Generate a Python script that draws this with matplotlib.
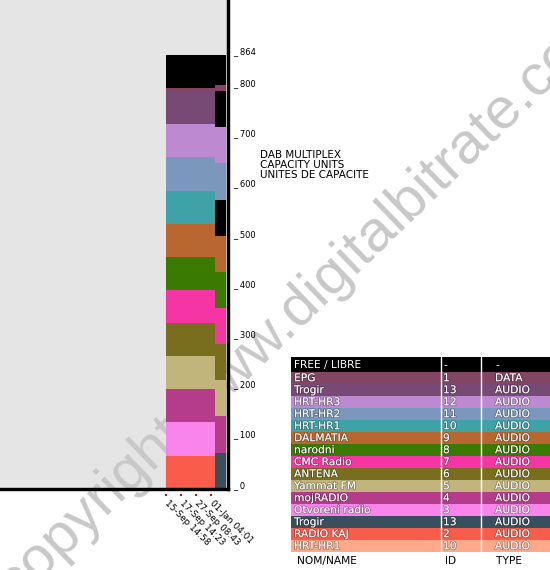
import matplotlib
matplotlib.use('Agg')
import matplotlib.pyplot as plt
import matplotlib.patheffects as pe
from matplotlib.patches import Rectangle

# Services du multiplex (ordre de la légende, de haut en bas)
noms = ['EPG', 'Trogir', 'HRT-HR3', 'HRT-HR2', 'HRT-HR1', 'DALMATIA', 'narodni',
        'CMC Radio', 'ANTENA', 'Yammat FM', 'mojRADIO', 'Otvoreni radio',
        'Trogir', 'RADIO KAJ', 'HRT-HR1']
ids = ['1', '13', '12', '11', '10', '9', '8', '7', '6', '5', '4', '3', '13', '2', '10']
types = ['DATA', 'AUDIO', 'AUDIO', 'AUDIO', 'AUDIO', 'AUDIO', 'AUDIO', 'AUDIO',
         'AUDIO', 'AUDIO', 'AUDIO', 'AUDIO', 'AUDIO', 'AUDIO', 'AUDIO']
couleurs = ['#834563', '#774a75', '#bd8ad2', '#7b97bc', '#3fa2a6', '#b86731',
            '#3b7a00', '#f535a3', '#786e1d', '#c1b57b', '#b53c8a', '#f984ec',
            '#38505e', '#fa5c4b', '#ffa98a']

dates = ['15-Sep 14:58', '17-Sep 14:23', '27-Sep 08:43', '01-Jan 04:01']
capacite = 864

# Période 1 : 15-Sep -> 27-Sep (index service, début CU, taille CU)
p1_serv = [13, 11, 10, 9, 8, 7, 6, 5, 4, 3, 2, 1, 0]
p1_debut = [0, 66, 132, 198, 264, 330, 396, 462, 528, 594, 660, 726, 792]
p1_taille = [66, 66, 66, 66, 66, 66, 66, 66, 66, 66, 66, 66, 6]

# Période 2 : 01-Jan
p2_serv = [12, 10, 9, 8, 7, 6, 5, 3, 2, 0]
p2_debut = [0, 72, 144, 216, 288, 360, 432, 576, 648, 792]
p2_taille = [72, 72, 72, 72, 72, 72, 72, 72, 72, 12]

graduations = [0, 100, 200, 300, 400, 500, 600, 700, 800, 864]

# Mise en page (pixels)
W, H = 550, 570
fig = plt.figure(figsize=(W / 100, H / 100), dpi=100)
bas = 488.7
droite = 228.3
ax = fig.add_axes([0, (H - bas) / H, droite / W, bas / H])
ax.set_facecolor('#e5e5e5')
ax.set_xlim(-11.047, (droite - 165.7) / 15)
ax.set_ylim(0, bas / ((bas - 55) / capacite))
ax.set_xticks([])
ax.set_yticks([])
for s in ['left', 'top']:
    ax.spines[s].set_visible(False)
for s in ['right', 'bottom']:
    ax.spines[s].set_linewidth(2.45)
    ax.spines[s].set_color('black')

periodes_x = [(0.0, 3.3), (3.3, 4.0)]
for (x0, x1), serv, debut, taille in zip(periodes_x, [p1_serv, p2_serv],
                                         [p1_debut, p2_debut], [p1_taille, p2_taille]):
    ax.bar(x0, capacite, width=x1 - x0, align='edge', color='black', lw=0, zorder=2)
    ax.bar([x0] * len(serv), taille, bottom=debut, width=x1 - x0, align='edge',
           color=[couleurs[s] for s in serv], lw=0, zorder=2)

# filigrane
ax.text(17 / W, 1 - 603 / H, 'copyright www.digitalbitrate.com', transform=fig.transFigure,
        fontsize=42, family='Liberation Sans', color='#c8c8c8', rotation=44,
        rotation_mode='anchor', ha='left', va='baseline', zorder=1, clip_on=False)

# graduations à droite
for v in graduations:
    ax.text(233 / droite, v + 2, '_ %d' % v, transform=ax.get_yaxis_transform(),
            fontsize=6, ha='left', va='baseline', clip_on=False)

# dates
for i, d in enumerate(dates):
    ax.plot([i], [-6.5 / bas], 's', color='red', ms=1.5, mew=0,
            transform=ax.get_xaxis_transform(), clip_on=False)
    ax.annotate(d, xy=(i, 0), xycoords=('data', 'axes fraction'),
                xytext=(4, -10), textcoords='offset pixels', fontsize=6.4,
                rotation=-45, rotation_mode='anchor', ha='left', va='top')

fig.text(260 / W, 1 - 150.5 / H, 'DAB MULTIPLEX\nCAPACITY UNITS\nUNITES DE CAPACITE',
         fontsize=7.5, ha='left', va='top', linespacing=0.97)

# tableau des services
tab = fig.add_axes([0, 0, 1, 1], zorder=3)
tab.set_xlim(0, W)
tab.set_ylim(H, 0)
tab.axis('off')
tab.patch.set_alpha(0)

contour = [pe.withStroke(linewidth=1.2, foreground=(0, 0, 0, 0.3))]
lignes = [('FREE / LIBRE', '-', '-', 'black')] + list(zip(noms, ids, types, couleurs))
y = 356.7
for k, (nom, ident, typ, c) in enumerate(lignes):
    h = 15 if k == 0 else 12
    tab.add_patch(Rectangle((291, y), W - 291, h, color=c, lw=0))
    for xt, t in [(294, nom), (443, ident), (495, typ)]:
        tab.text(xt, y + h / 2 + 0.5, t, color='white', fontsize=7.7, ha='left',
                 va='center', path_effects=contour if k > 0 else None)
    y += h
for xl in [441.3, 481.3]:
    tab.plot([xl, xl], [356.7, y], color='white', lw=1.0)
for xt, t in [(297, 'NOM/NAME'), (445, 'ID'), (496, 'TYPE')]:
    tab.text(xt, 561, t, color='black', fontsize=7.7, ha='left', va='center')

fig.savefig('out.png', dpi=100)
